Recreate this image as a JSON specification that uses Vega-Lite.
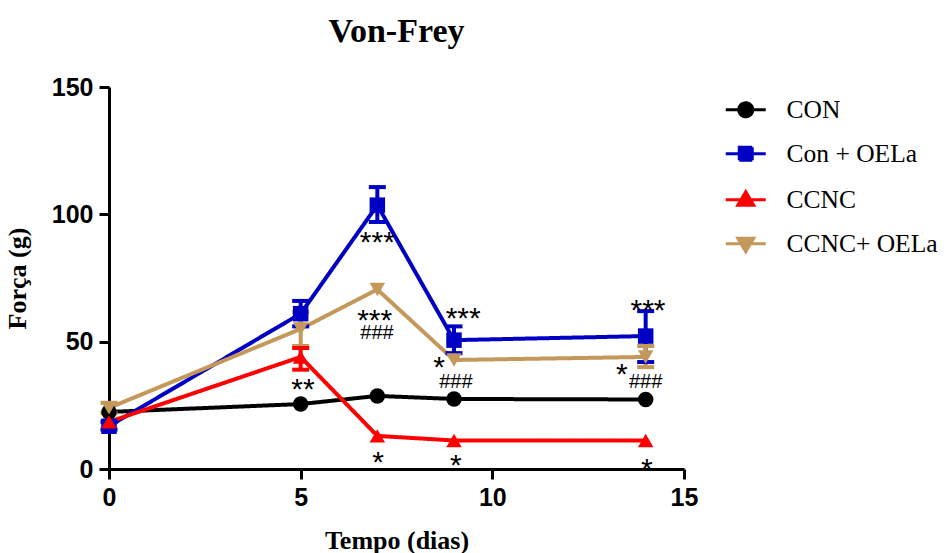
{
  "$schema": "https://vega.github.io/schema/vega-lite/v6.json",
  "autosize": "none",
  "width": 575,
  "height": 382,
  "padding": {"left": 109, "top": 87, "right": 260, "bottom": 84},
  "background": "white",
  "title": {"text": "Von-Frey", "font": "Liberation Serif", "fontSize": 34, "fontWeight": "bold", "color": "black", "anchor": "middle", "offset": 26},
  "datasets": {
    "groups": [
      {"series": "CON", "day": 0, "value": 22.4},
      {"series": "CON", "day": 5, "value": 25.5},
      {"series": "CON", "day": 7, "value": 28.7},
      {"series": "CON", "day": 9, "value": 27.5},
      {"series": "CON", "day": 14, "value": 27.3},
      {"series": "Con + OELa", "day": 0, "value": 16.8, "lo": 15.5, "hi": 18.5},
      {"series": "Con + OELa", "day": 5, "value": 61, "lo": 56, "hi": 66},
      {"series": "Con + OELa", "day": 7, "value": 103.6, "lo": 97, "hi": 110.7},
      {"series": "Con + OELa", "day": 9, "value": 50.6, "lo": 45.5, "hi": 56},
      {"series": "Con + OELa", "day": 14, "value": 52.2, "lo": 42, "hi": 62},
      {"series": "CCNC", "day": 0, "value": 18.5},
      {"series": "CCNC", "day": 5, "value": 44, "lo": 39, "hi": 47.5},
      {"series": "CCNC", "day": 7, "value": 13},
      {"series": "CCNC", "day": 9, "value": 11.2},
      {"series": "CCNC", "day": 14, "value": 11.2},
      {"series": "CCNC+ OELa", "day": 0, "value": 24, "lo": 22, "hi": 26},
      {"series": "CCNC+ OELa", "day": 5, "value": 55, "lo": 48.3, "hi": 61.6},
      {"series": "CCNC+ OELa", "day": 7, "value": 70.5},
      {"series": "CCNC+ OELa", "day": 9, "value": 42.8},
      {"series": "CCNC+ OELa", "day": 14, "value": 44, "lo": 40, "hi": 48.3}
    ],
    "marks": [
      {"day": 5.06, "y": 34.2, "label": "**"},
      {"day": 7.02, "y": 5.5, "label": "*"},
      {"day": 9.05, "y": 4.3, "label": "*"},
      {"day": 14.03, "y": 2.7, "label": "*"},
      {"day": 7.0, "y": 91.9, "label": "***"},
      {"day": 6.93, "y": 61.2, "label": "***"},
      {"day": 6.99, "y": 53.8, "label": "###"},
      {"day": 9.24, "y": 62, "label": "***"},
      {"day": 8.61, "y": 42.8, "label": "*"},
      {"day": 9.05, "y": 34.5, "label": "###"},
      {"day": 14.06, "y": 65.2, "label": "***"},
      {"day": 13.38, "y": 40, "label": "*"},
      {"day": 14.0, "y": 34.5, "label": "###"}
    ]
  },
  "config": {
    "view": {"stroke": null},
    "axis": {
      "grid": false,
      "labelFlush": false,
      "domainColor": "black",
      "domainWidth": 3,
      "tickColor": "black",
      "tickWidth": 3,
      "tickSize": 10,
      "labelFont": "Liberation Sans",
      "labelFontWeight": "bold",
      "labelFontSize": 25,
      "labelColor": "black",
      "titleFont": "Liberation Serif",
      "titleFontWeight": "bold",
      "titleFontSize": 26,
      "titleColor": "black"
    },
    "legend": {
      "orient": "none",
      "legendX": 624,
      "legendY": 10,
      "padding": 0,
      "labelFont": "Liberation Serif",
      "labelFontSize": 25.5,
      "labelColor": "black",
      "symbolSize": 400,
      "rowPadding": 17,
      "labelOffset": 28
    }
  },
  "encoding": {
    "x": {"field": "day", "type": "quantitative", "scale": {"domain": [0, 15], "nice": false},
      "axis": {"values": [0, 5, 10, 15], "title": "Tempo (dias)", "labelPadding": 6, "titlePadding": 17}},
    "color": {"field": "series", "type": "nominal", "legend": null,
      "scale": {"domain": ["CON", "Con + OELa", "CCNC", "CCNC+ OELa"], "range": ["#000000", "#0000C4", "#FF0000", "#C4985A"]}}
  },
  "layer": [
    {
      "data": {"name": "groups"},
      "mark": {"type": "line", "strokeWidth": 4},
      "encoding": {
        "y": {"field": "value", "type": "quantitative", "scale": {"domain": [0, 150], "nice": false},
          "axis": {"values": [0, 50, 100, 150], "title": "Força (g)", "labelPadding": 6, "titlePadding": 21}},
        "strokeDash": {"field": "series", "type": "nominal",
          "sort": ["CON", "Con + OELa", "CCNC", "CCNC+ OELa"],
          "scale": {"range": [[1, 0], [1, 0], [1, 0], [1, 0]]},
          "legend": {
            "title": null,
            "encode": {
              "symbols": {
                "update": {
                  "shape": {"signal": "datum.value === 'CON' ? 'M-0.7,0A0.7,0.7 0 1,0 0.7,0A0.7,0.7 0 1,0 -0.7,0ZM-2,0H2' : datum.value === 'Con + OELa' ? 'M-0.65,-0.65H0.65V0.65H-0.65ZM-2,0H2' : datum.value === 'CCNC' ? 'M0,-0.8L0.8,0.55L-0.8,0.55ZM-2,0H2' : 'M0,0.8L0.8,-0.55L-0.8,-0.55ZM-2,0H2'"},
                  "stroke": {"signal": "scale('color', datum.value)"},
                  "fill": {"signal": "scale('color', datum.value)"},
                  "strokeWidth": {"value": 3},
                  "opacity": {"value": 1}
                }
              }
            }
          }
        }
      }
    },
    {
      "data": {"name": "groups"},
      "transform": [{"filter": "isValid(datum.lo)"}],
      "mark": {"type": "rule", "strokeWidth": 4},
      "encoding": {
        "y": {"field": "lo", "type": "quantitative"},
        "y2": {"field": "hi"}
      }
    },
    {
      "data": {"name": "groups"},
      "transform": [{"filter": "isValid(datum.lo)"}],
      "mark": {"type": "tick", "orient": "horizontal", "size": 17, "thickness": 4, "opacity": 1},
      "encoding": {
        "y": {"field": "lo", "type": "quantitative"}
      }
    },
    {
      "data": {"name": "groups"},
      "transform": [{"filter": "isValid(datum.hi)"}],
      "mark": {"type": "tick", "orient": "horizontal", "size": 17, "thickness": 4, "opacity": 1},
      "encoding": {
        "y": {"field": "hi", "type": "quantitative"}
      }
    },
    {
      "data": {"name": "groups"},
      "mark": {"type": "point", "filled": true, "opacity": 1, "size": 240},
      "encoding": {
        "y": {"field": "value", "type": "quantitative"},
        "shape": {"field": "series", "type": "nominal", "legend": null,
          "scale": {"domain": ["CON", "Con + OELa", "CCNC", "CCNC+ OELa"], "range": ["circle", "square", "triangle-up", "triangle-down"]}}
      }
    },
    {
      "data": {"name": "marks"},
      "transform": [{"filter": "datum.label[0] === '*'"}],
      "mark": {"type": "text", "font": "Liberation Sans", "fontSize": 30, "baseline": "middle", "align": "center", "dy": 8},
      "encoding": {
        "y": {"field": "y", "type": "quantitative"},
        "text": {"field": "label"},
        "color": {"value": "black"}
      }
    },
    {
      "data": {"name": "marks"},
      "transform": [{"filter": "datum.label[0] === '#'"}],
      "mark": {"type": "text", "font": "Liberation Sans", "fontSize": 20, "baseline": "middle", "align": "center", "dy": 1},
      "encoding": {
        "y": {"field": "y", "type": "quantitative"},
        "text": {"field": "label"},
        "color": {"value": "black"}
      }
    }
  ]
}
